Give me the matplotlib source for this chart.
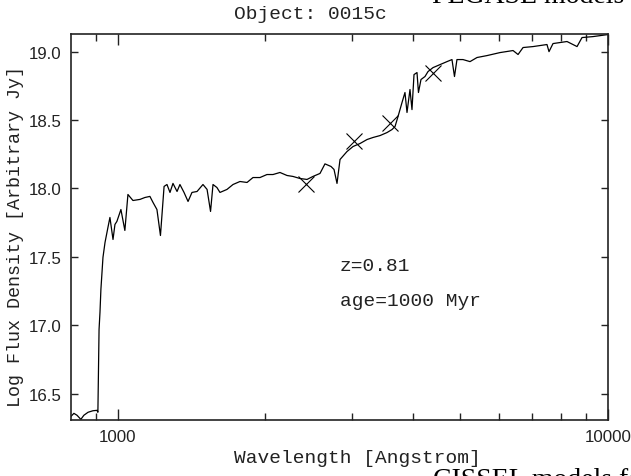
import matplotlib
matplotlib.use("Agg")
import matplotlib.pyplot as plt
from matplotlib.ticker import LogLocator, FixedLocator, NullFormatter

# spectrum (wavelength in Angstrom, log flux)
wavelength = [
    802, 813, 825, 840, 852, 869, 889, 906, 910, 915, 919,
    923, 932, 941, 954, 963, 977, 986, 995, 1014, 1033, 1048,
    1073, 1109, 1135, 1162, 1179, 1201, 1221, 1242, 1259, 1277,
    1295, 1320, 1338, 1364, 1390, 1416, 1450, 1491, 1520, 1545,
    1563, 1592, 1615, 1669, 1717, 1774, 1834, 1886, 1949, 2014,
    2072, 2141, 2213, 2276, 2352, 2431, 2500, 2584, 2645, 2721,
    2760, 2799, 2839, 2933, 3018, 3119, 3223, 3315, 3426, 3540,
    3624, 3676, 3728, 3799, 3852, 3889, 3944, 3981, 4019, 4076,
    4104, 4153, 4232, 4292, 4394, 4541, 4693, 4804, 4861, 4918,
    5059, 5229, 5404, 5662, 6019, 6401, 6553, 6709, 7031, 7507,
    7579, 7723, 8248, 8646, 8851, 9318, 10000,
]
log_flux = [
    16.333, 16.355, 16.341, 16.311, 16.341, 16.363, 16.374, 16.377, 16.363, 16.969, 17.094,
    17.262, 17.496, 17.605, 17.715, 17.788, 17.627, 17.737, 17.759, 17.846, 17.693, 17.956,
    17.912, 17.920, 17.934, 17.942, 17.898, 17.846, 17.656, 18.015, 18.029, 17.971,
    18.037, 17.978, 18.029, 17.971, 17.905, 17.971, 17.978, 18.029, 17.993, 17.832,
    18.029, 18.007, 17.971, 17.993, 18.029, 18.051, 18.044, 18.080, 18.080, 18.102,
    18.102, 18.117, 18.095, 18.088, 18.073, 18.066, 18.088, 18.110, 18.180, 18.161,
    18.139, 18.037, 18.212, 18.270, 18.307, 18.329, 18.358, 18.373, 18.387, 18.409,
    18.431, 18.453, 18.526, 18.629, 18.702, 18.556, 18.724, 18.577, 18.833, 18.848,
    18.702, 18.797, 18.819, 18.855, 18.884, 18.906, 18.928, 18.943, 18.819, 18.943,
    18.943, 18.928, 18.958, 18.972, 18.994, 19.009, 18.980, 19.031, 19.038, 19.053,
    19.001, 19.060, 19.075, 19.038, 19.104, 19.111, 19.126,
]

# photometric points (crosses)
phot_wl = [2425, 3035, 3590, 4400]
phot_flux = [18.035, 18.346, 18.48, 18.846]

x_major = [1000, 10000]
x_labels = ["1000", "10000"]
y_ticks = [16.5, 17.0, 17.5, 18.0, 18.5, 19.0]

mono = "Liberation Mono"
sans = "Liberation Sans"
serif = "Liberation Serif"

fig = plt.figure(figsize=(6.31, 4.77), dpi=100)
ax = fig.add_axes([71 / 631, 1 - 420.5 / 477, 537 / 631, 385.5 / 477])

ax.plot(wavelength, log_flux, color="black", lw=0.9)
ax.plot(phot_wl, phot_flux, "x", color="black", ms=12, mew=0.8)

ax.set_xscale("log")
ax.set_xlim(802, 10000)
ax.set_ylim(16.31, 19.13)

ax.xaxis.set_major_locator(FixedLocator(x_major))
ax.set_xticklabels(x_labels)
ax.xaxis.set_minor_locator(LogLocator(base=10, subs=range(2, 10)))
ax.xaxis.set_minor_formatter(NullFormatter())
ax.set_yticks(y_ticks)
ax.set_yticklabels([f"{v:.1f}" for v in y_ticks])

ax.tick_params(which="both", direction="in", top=True, right=True,
               colors="#222222", labelsize=12.2, width=1.0)
ax.tick_params(axis="x", which="major", length=8, pad=7)
ax.tick_params(axis="x", which="minor", length=5)
ax.tick_params(axis="y", which="major", length=5, pad=7)
for lab in ax.get_xticklabels() + ax.get_yticklabels():
    lab.set_family(sans)
for s in ax.spines.values():
    s.set_linewidth(1.2)
    s.set_color("#222222")

ax.text(0.501, 0.388, "z=0.81", transform=ax.transAxes, family=mono,
        fontsize=14, color="#222222", va="baseline")
ax.text(0.501, 0.297, "age=1000 Myr", transform=ax.transAxes, family=mono,
        fontsize=14, color="#222222", va="baseline")

# labels placed at figure coordinates to match the reference
fig.text(310.5 / 631, 1 - 19 / 477, "Object: 0015c", family=mono, fontsize=14,
         color="#222222", ha="center", va="baseline")
fig.text(357 / 631, 1 - 463 / 477, "Wavelength [Angstrom]", family=mono,
         fontsize=14, color="#222222", ha="center", va="baseline")
fig.text(16 / 631, 1 - 236.7 / 477, "Log Flux Density [Arbitrary Jy]",
         family=mono, fontsize=13.2, color="#222222", rotation=90,
         ha="center", va="center")

# clipped headings from the surrounding page
fig.text(432 / 631, 1 - 3 / 477, "PEGASE models", family=serif,
         fontsize=20, color="black", va="baseline")
fig.text(433 / 631, 1 - 487 / 477, "CISSEL models for", family=serif,
         fontsize=20, color="black", va="baseline")

fig.savefig("out.png", dpi=100)
